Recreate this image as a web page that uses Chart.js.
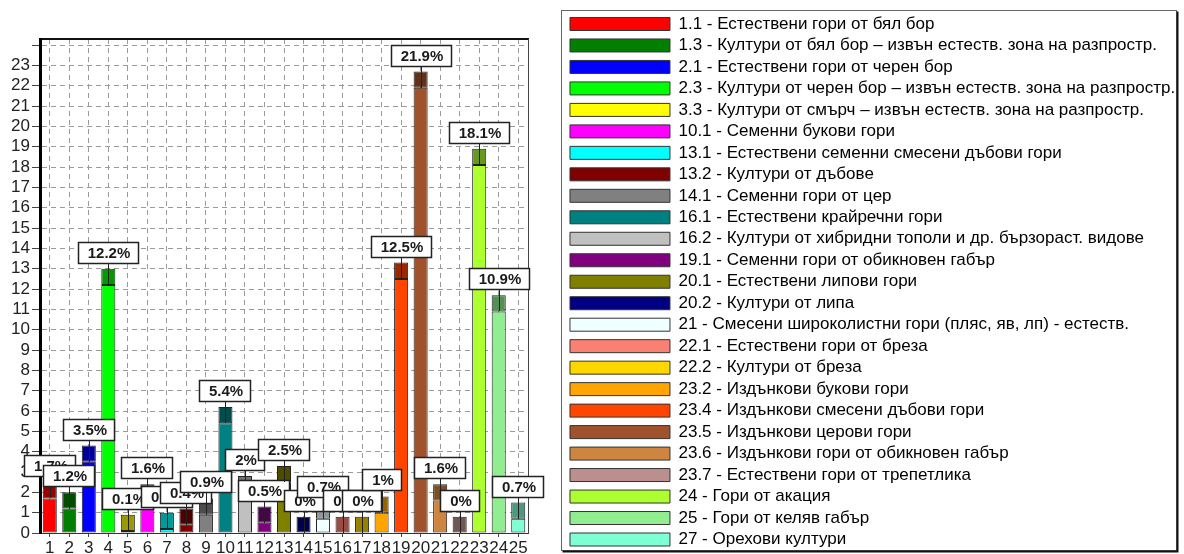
<!DOCTYPE html>
<html>
<head>
<meta charset="utf-8">
<script src="https://cdn.jsdelivr.net/npm/chart.js@4.4.0/dist/chart.umd.min.js"></script>
<style>
  html, body { margin: 0; padding: 0; background: #fff; }
  #wrap { width: 1184px; height: 554px; }
</style>
</head>
<body>
<div id="wrap"><canvas id="forestChart" width="1184" height="554"></canvas></div>
<script>
// x axis categories (index of forest type)
var categories = ['1', '2', '3', '4', '5', '6', '7', '8', '9', '10', '11', '12', '13',
  '14', '15', '16', '17', '18', '19', '20', '21', '22', '23', '24', '25'];

// legend names
var forestTypes = [
  '1.1 - Естествени гори от бял бор',
  '1.3 - Култури от бял бор – извън естеств. зона на разпростр.',
  '2.1 - Естествени гори от черен бор',
  '2.3 - Култури от черен бор – извън естеств. зона на разпростр.',
  '3.3 - Култури от смърч – извън естеств. зона на разпростр.',
  '10.1 - Семенни букови гори',
  '13.1 - Естествени семенни смесени дъбови гори',
  '13.2 - Култури от дъбове',
  '14.1 - Семенни гори от цер',
  '16.1 - Естествени крайречни гори',
  '16.2 - Култури от хибридни тополи и др. бързораст. видове',
  '19.1 - Семенни гори от обикновен габър',
  '20.1 - Естествени липови гори',
  '20.2 - Култури от липа',
  '21 - Смесени широколистни гори (пляс, яв, лп) - естеств.',
  '22.1 - Естествени гори от бреза',
  '22.2 - Култури от бреза',
  '23.2 - Издънкови букови гори',
  '23.4 - Издънкови смесени дъбови гори',
  '23.5 - Издънкови церови гори',
  '23.6 - Издънкови гори от обикновен габър',
  '23.7 - Естествени гори от трепетлика',
  '24 - Гори от акация',
  '25 - Гори от келяв габър',
  '27 - Орехови култури'
];

// share of area, %
var shares = [1.7, 1.2, 3.5, 12.2, 0.1, 1.6, 0.2, 0.4, 0.9, 5.4, 2, 0.5, 2.5,
  0, 0.7, 0, 0, 1, 12.5, 21.9, 1.6, 0, 18.1, 10.9, 0.7];

var yTicks = [0, 1, 2, 3, 4, 5, 6, 7, 8, 9, 10, 11, 12, 13, 14, 15, 16, 17, 18, 19, 20, 21, 22, 23, 24];
var yTickLabels = ['0', '1', '2', '3', '4', '5', '6', '7', '8', '9', '10', '11', '12', '13',
  '14', '15', '16', '17', '18', '19', '20', '21', '22', '23', ''];

var barColors = ['#ff0000', '#007f00', '#0000ff', '#00ff00', '#ffff00', '#ff00ff', '#00ffff',
  '#800000', '#808080', '#008080', '#c0c0c0', '#800080', '#808000', '#000080', '#f0ffff',
  '#fa8072', '#ffd700', '#ffa500', '#ff4500', '#a0522d', '#cd853f', '#bc8f8f', '#adff2f',
  '#90ee90', '#7fffd4'];

// the darker "top face" of every bar, in axis units
var DEPTH = 0.8;
var FONT = '"Liberation Sans", Arial, sans-serif';

function shade(hex, f) {
  var n = parseInt(hex.slice(1), 16);
  var r = Math.round(((n >> 16) & 255) * f);
  var g = Math.round(((n >> 8) & 255) * f);
  var b = Math.round((n & 255) * f);
  return 'rgb(' + r + ',' + g + ',' + b + ')';
}
var capColors = barColors.map(c => shade(c, 0.6));

// fixed legend width so the plot keeps its place on the left
var legendFit = {
  id: 'legendFit',
  afterInit(chart) {
    var lg = chart.legend;
    var fit = lg.fit;
    lg.fit = function () {
      fit.call(this);
      this.width = 618.5;
    };
  }
};

// frame round the legend
var legendFrame = {
  id: 'legendFrame',
  afterDraw(chart) {
    var lg = chart.legend;
    var ctx = chart.ctx;
    var x0 = Math.round(lg.left - 4.5) + 0.5;
    var y0 = Math.round(lg.top - 1) + 0.5;
    var x1 = Math.round(lg.right - 8) + 0.5;
    var y1 = Math.round(lg.bottom - 4) + 0.5;
    ctx.save();
    ctx.strokeStyle = '#666';
    ctx.lineWidth = 1;
    ctx.strokeRect(x0, y0, x1 - x0, y1 - y0);
    ctx.strokeStyle = '#111';
    ctx.lineWidth = 2;
    ctx.beginPath();
    ctx.moveTo(x0 + 1, y1 + 1);
    ctx.lineTo(x1 + 1, y1 + 1);
    ctx.lineTo(x1 + 1, y0 + 1);
    ctx.stroke();
    ctx.restore();
  }
};

// value boxes above the bars
var valueBoxes = {
  id: 'valueBoxes',
  afterDatasetsDraw(chart) {
    var ctx = chart.ctx;
    var yScale = chart.scales.y;
    var caps = chart.getDatasetMeta(1).data;
    ctx.save();
    ctx.font = 'bold 15px ' + FONT;
    ctx.textAlign = 'center';
    ctx.textBaseline = 'middle';
    caps.forEach(function (bar, i) {
      var text = shares[i] + '%';
      var w = Math.round(ctx.measureText(text).width + 18);
      var h = 22;
      var cx = Math.round(bar.x);
      var bottom = Math.round(bar.y - 5);
      var yVal = Math.round(yScale.getPixelForValue(shares[i]));
      ctx.strokeStyle = '#222';
      ctx.lineWidth = 1;
      ctx.beginPath();
      ctx.moveTo(cx + 0.5, yVal);
      ctx.lineTo(cx + 0.5, bottom);
      ctx.stroke();
      var left = Math.round(cx - w / 2);
      ctx.fillStyle = '#fff';
      ctx.fillRect(left, bottom - h, w, h);
      ctx.lineWidth = 1.5;
      ctx.strokeRect(left + 0.5, bottom - h + 0.5, w - 1, h - 1);
      ctx.fillStyle = '#1a1a1a';
      ctx.fillText(text, cx + 1, bottom - h / 2 + 1);
    });
    ctx.restore();
  }
};

var ctx = document.getElementById('forestChart').getContext('2d');

var forestChart = new Chart(ctx, {
  type: 'bar',
  data: {
    labels: categories,
    datasets: [
      {
        label: 'share',
        data: shares,
        backgroundColor: barColors,
        borderColor: '#222',
        borderWidth: 1,
        borderSkipped: false,
        barPercentage: 0.72,
        categoryPercentage: 1
      },
      {
        label: 'depth',
        data: shares.map(() => DEPTH),
        backgroundColor: capColors,
        borderColor: '#222',
        borderWidth: 1,
        borderSkipped: false,
        barPercentage: 0.72,
        categoryPercentage: 1
      }
    ]
  },
  options: {
    responsive: false,
    animation: false,
    devicePixelRatio: 1,
    layout: { padding: { top: 11, right: 0, bottom: 0, left: 0 } },
    plugins: {
      tooltip: { enabled: false },
      legend: {
        position: 'right',
        align: 'start',
        onClick: null,
        labels: {
          boxWidth: 100,
          boxHeight: 13,
          padding: 4.48,
          color: '#111',
          font: { family: FONT, size: 17 },
          generateLabels: () => forestTypes.map((t, i) => ({
            text: t,
            fillStyle: barColors[i],
            strokeStyle: '#333',
            lineWidth: 1,
            hidden: false,
            index: i
          }))
        }
      }
    },
    scales: {
      x: {
        stacked: true,
        offset: true,
        grid: {
          offset: false,
          color: '#9a9a9a',
          lineWidth: 1,
          tickLength: 4,
          tickColor: '#444',
          tickBorderDash: []
        },
        border: { color: '#333', width: 1, dash: [5, 4] },
        ticks: {
          autoSkip: false,
          maxRotation: 0,
          padding: 1,
          color: '#222',
          font: { family: FONT, size: 17 }
        },
        afterFit: s => { s.height = 21; }
      },
      xTop: {
        type: 'linear',
        position: 'top',
        min: 0,
        max: 1,
        ticks: { display: false },
        grid: { display: false },
        border: { color: '#111', width: 2 },
        afterFit: s => { s.height = 28; }
      },
      y: {
        stacked: true,
        min: 0,
        max: 24.3,
        afterBuildTicks: s => { s.ticks = yTicks.map(v => ({ value: v })); },
        grid: {
          color: '#9a9a9a',
          lineWidth: 1,
          tickLength: 8,
          tickColor: '#444',
          tickBorderDash: []
        },
        border: { color: '#000', width: 3, dash: [5, 4] },
        ticks: {
          autoSkip: false,
          padding: 2,
          color: '#222',
          font: { family: FONT, size: 17 },
          callback: (v, i) => yTickLabels[i]
        },
        afterFit: s => { s.width = 40; }
      },
      yR: {
        type: 'linear',
        position: 'right',
        min: 0,
        max: 1,
        ticks: { display: false },
        grid: { display: false },
        border: { color: '#444', width: 1 },
        afterFit: s => { s.width = 37.5; }
      }
    }
  },
  plugins: [legendFit, legendFrame, valueBoxes]
});
</script>
</body>
</html>
